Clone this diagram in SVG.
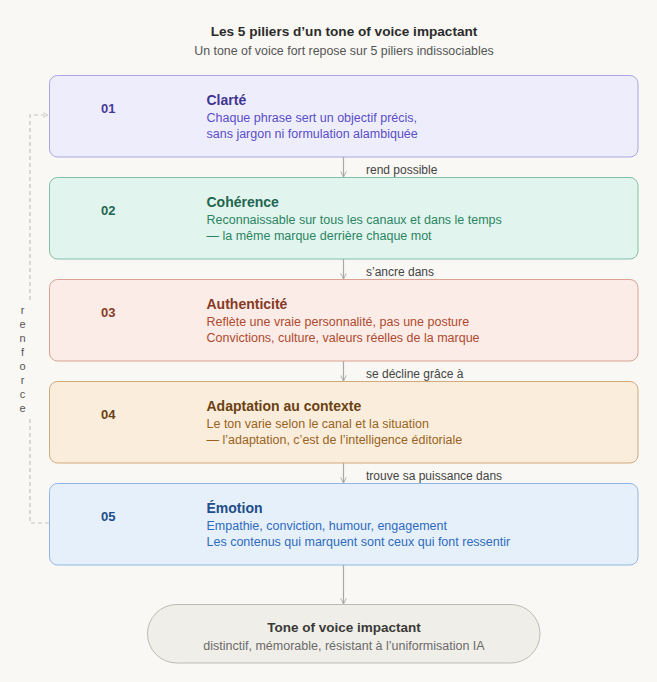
<svg xmlns="http://www.w3.org/2000/svg" width="657" height="682" viewBox="0 0 657 682">
<defs>
<style>
text{font-family:"Liberation Sans",Arial,sans-serif}
.t{font-size:13.6px;font-weight:bold;fill:#2b2b2b}
.st{font-size:12.4px;fill:#555}
.num{font-size:13px;font-weight:bold}
.ttl{font-size:14px;font-weight:bold}
.dsc{font-size:12.5px}
.lbl{font-size:12px;fill:#444}
.conn{stroke:#a8a8a8;stroke-width:1.2;fill:none}
.dash{stroke:#c4c4c4;stroke-width:1.2;fill:none;stroke-dasharray:4 3}
</style>
<marker id="ah" viewBox="0 0 10 10" refX="9" refY="5" markerWidth="7" markerHeight="7" orient="auto" markerUnits="userSpaceOnUse">
<path d="M1,1 L9,5 L1,9" fill="none" stroke="#a8a8a8" stroke-width="1.3"/>
</marker>
<marker id="ahd" viewBox="0 0 10 10" refX="9" refY="5" markerWidth="6" markerHeight="6" orient="auto" markerUnits="userSpaceOnUse">
<path d="M1,1 L9,5 L1,9" fill="none" stroke="#c4c4c4" stroke-width="1.3"/>
</marker>
</defs>
<rect width="657" height="682" fill="#f9f8f4"/>
<g id="header">
<text class="t" x="344" y="36" text-anchor="middle">Les 5 piliers d’un tone of voice impactant</text>
<text class="st" x="344" y="55" text-anchor="middle">Un tone of voice fort repose sur 5 piliers indissociables</text>
</g>
<g id="connectors">
<line class="conn" x1="343.5" y1="157" x2="343.5" y2="177" marker-end="url(#ah)"/>
<line class="conn" x1="343.5" y1="259" x2="343.5" y2="279" marker-end="url(#ah)"/>
<line class="conn" x1="343.5" y1="361" x2="343.5" y2="381" marker-end="url(#ah)"/>
<line class="conn" x1="343.5" y1="463" x2="343.5" y2="483" marker-end="url(#ah)"/>
<line class="conn" x1="343.5" y1="565" x2="343.5" y2="604" marker-end="url(#ah)"/>
<text class="lbl" x="366" y="174">rend possible</text>
<text class="lbl" x="366" y="276">s’ancre dans</text>
<text class="lbl" x="366" y="378">se décline grâce à</text>
<text class="lbl" x="366" y="480">trouve sa puissance dans</text>
<path class="dash" d="M49,523 H30 V416"/>
<path class="dash" d="M30,300 V115 H48" marker-end="url(#ahd)"/>
<text font-size="11" fill="#555" text-anchor="middle"><tspan x="22.5" y="314">r</tspan><tspan x="22.5" y="328">e</tspan><tspan x="22.5" y="342">n</tspan><tspan x="22.5" y="356">f</tspan><tspan x="22.5" y="370">o</tspan><tspan x="22.5" y="384">r</tspan><tspan x="22.5" y="398">c</tspan><tspan x="22.5" y="412">e</tspan></text>
</g>
<g id="pilier1">
<rect x="49.5" y="75.5" width="588.5" height="81.5" rx="8" fill="#eeedfc" stroke="#aaa4e2"/>
<text class="num" x="101" y="113" fill="#463c98">01</text>
<text class="ttl" x="206.5" y="105" fill="#3f3591">Clarté</text>
<text class="dsc" x="206.5" y="122" fill="#5a4ec8">Chaque phrase sert un objectif précis,</text>
<text class="dsc" x="206.5" y="138" fill="#5a4ec8">sans jargon ni formulation alambiquée</text>
</g>
<g id="pilier2">
<rect x="49.5" y="177.5" width="588.5" height="81.5" rx="8" fill="#e2f4ee" stroke="#80c0a9"/>
<text class="num" x="101" y="215" fill="#1f6650">02</text>
<text class="ttl" x="206.5" y="207" fill="#1f6650">Cohérence</text>
<text class="dsc" x="206.5" y="224" fill="#2a8563">Reconnaissable sur tous les canaux et dans le temps</text>
<text class="dsc" x="206.5" y="240" fill="#2a8563">— la même marque derrière chaque mot</text>
</g>
<g id="pilier3">
<rect x="49.5" y="279.5" width="588.5" height="81.5" rx="8" fill="#fbece8" stroke="#d9a293"/>
<text class="num" x="101" y="317" fill="#873a24">03</text>
<text class="ttl" x="206.5" y="309" fill="#873a24">Authenticité</text>
<text class="dsc" x="206.5" y="326" fill="#b04a2d">Reflète une vraie personnalité, pas une posture</text>
<text class="dsc" x="206.5" y="342" fill="#b04a2d">Convictions, culture, valeurs réelles de la marque</text>
</g>
<g id="pilier4">
<rect x="49.5" y="381.5" width="588.5" height="81.5" rx="8" fill="#fbeddc" stroke="#d1a97a"/>
<text class="num" x="101" y="419" fill="#6a4212">04</text>
<text class="ttl" x="206.5" y="411" fill="#6a4212">Adaptation au contexte</text>
<text class="dsc" x="206.5" y="428" fill="#986322">Le ton varie selon le canal et la situation</text>
<text class="dsc" x="206.5" y="444" fill="#986322">— l’adaptation, c’est de l’intelligence éditoriale</text>
</g>
<g id="pilier5">
<rect x="49.5" y="483.5" width="588.5" height="81.5" rx="8" fill="#e6f0fb" stroke="#92b6e2"/>
<text class="num" x="101" y="521" fill="#214d88">05</text>
<text class="ttl" x="206.5" y="513" fill="#214d88">Émotion</text>
<text class="dsc" x="206.5" y="530" fill="#2e6bbd">Empathie, conviction, humour, engagement</text>
<text class="dsc" x="206.5" y="546" fill="#2e6bbd">Les contenus qui marquent sont ceux qui font ressentir</text>
</g>
<g id="resultat">
<rect x="147.5" y="604.5" width="392.5" height="58.5" rx="29.25" fill="#f0eee8" stroke="#bebbb3"/>
<text x="344" y="632" text-anchor="middle" font-size="13.5" font-weight="bold" fill="#3a3a38">Tone of voice impactant</text>
<text x="344" y="650" text-anchor="middle" font-size="12.5" fill="#6b6b69">distinctif, mémorable, résistant à l’uniformisation IA</text>
</g>
</svg>
